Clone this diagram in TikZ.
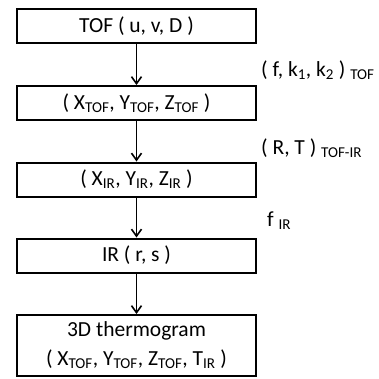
\documentclass[tikz,border=0pt]{standalone}
\usepackage{fontspec}
\setmainfont{Carlito}
\usetikzlibrary{arrows.meta}
\tikzset{
  stage/.style={draw, line width=0.7mm, minimum width=239pt, minimum height=34pt, align=center, inner sep=0pt},
  param/.style={anchor=west, inner sep=0pt},
  flow/.style={-{Straight Barb[length=7pt,width=10pt,line width=1.6pt]}, line width=1.6pt}
}
\begin{document}
\begin{tikzpicture}[x=1pt, y=-1pt, font=\fontsize{21.5}{29}\selectfont]
  \useasboundingbox (0,0) rectangle (379,378);
  \node[stage] (tof) at (136.5,26) {TOF ( u, v, D )};
  \node[stage] (xyztof) at (136.5,103) {( X\textsubscript{TOF}, Y\textsubscript{TOF}, Z\textsubscript{TOF} )};
  \node[stage] (xyzir) at (136.5,179.5) {( X\textsubscript{IR}, Y\textsubscript{IR}, Z\textsubscript{IR} )};
  \node[stage] (ir) at (136.5,255.5) {IR ( r, s )};
  \node[stage, minimum height=61pt] (thermo) at (136.5,345.5) {3D thermogram\\( X\textsubscript{TOF}, Y\textsubscript{TOF}, Z\textsubscript{TOF}, T\textsubscript{IR} )};
  \node[param] (intr) at (261,70) {( f, k\textsubscript{1}, k\textsubscript{2} ) \textsubscript{TOF}};
  \node[param] (extr) at (261,148) {( R, T ) \textsubscript{TOF-IR}};
  \node[param] (fir) at (267,221) {f \textsubscript{IR}};
  \draw[flow] (tof) -- (xyztof);
  \draw[flow] (xyztof) -- (xyzir);
  \draw[flow] (xyzir) -- (ir);
  \draw[flow] (ir) -- (thermo);
\end{tikzpicture}
\end{document}
